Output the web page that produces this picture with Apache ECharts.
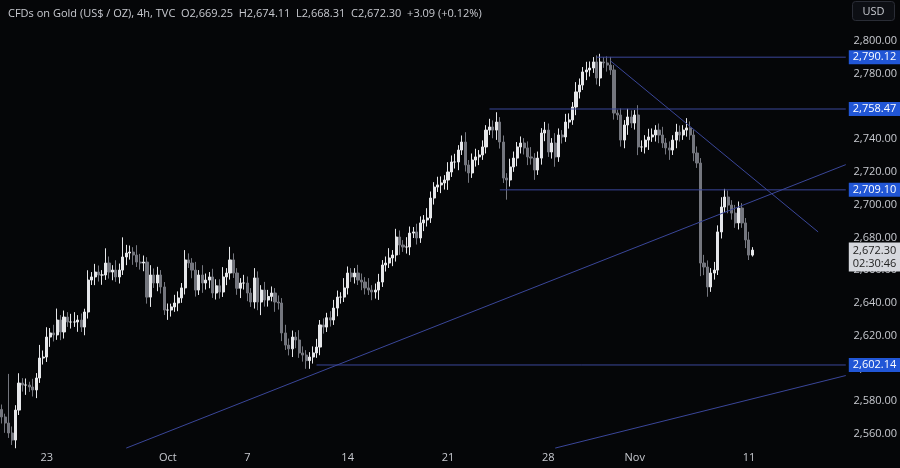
<!DOCTYPE html>
<html><head><meta charset="utf-8">
<script src="https://cdn.jsdelivr.net/npm/echarts@6/dist/echarts.min.js"></script>
<style>html,body{margin:0;padding:0;background:#050608;}#c{width:900px;height:468px;}</style>
</head><body><div id="c"></div>
<script>
const closes = [
2570.4,2566.7,2560.6,2556.3,2574.6,2591.1,2589.9,2589.9,2588.7,2586.9,2594.2,2606.4,2607.0,2619.2,2621.7,2620.5,2629.6,2622.3,2631.4,2628.4,2628.4,2628.4,2629.6,2625.3,2634.5,2654.0,2655.9,2658.9,2657.1,2657.1,2664.4,2658.9,2660.1,2655.9,2660.1,2668.1,2670.5,2671.1,2669.3,2665.0,2664.4,2665.0,2643.6,2657.1,2652.2,2657.1,2649.8,2635.7,2635.7,2637.6,2640.0,2643.1,2649.2,2666.3,
2664.4,2660.1,2647.9,2657.1,2652.2,2654.0,2655.9,2646.1,2650.5,2646.7,2655.9,2658.3,2666.3,2658.3,2649.0,2652.2,2652.2,2646.1,2640.6,2655.3,2640.6,2647.9,2641.8,2644.0,2646.1,2640.6,2640.0,2621.7,2614.3,2612.0,2619.2,2617.4,2609.5,2608.2,2604.8,2607.0,2609.5,2613.1,2626.6,2625.3,2631.0,2629.6,2636.9,2643.6,2643.6,2649.2,2658.3,2655.9,
2658.3,2654.0,2652.8,2649.2,2647.9,2646.7,2647.9,2652.8,2663.2,2664.4,2667.5,2669.3,2680.3,2675.4,2674.2,2674.2,2682.7,2683.4,2679.7,2688.9,2690.7,2691.9,2704.1,2710.8,2712.1,2713.3,2715.1,2720.0,2726.1,2726.1,2733.4,2738.3,2724.3,2719.4,2727.3,2729.2,2730.4,2735.3,2745.6,2747.5,2745.6,2750.5,2738.3,2716.3,2715.1,2723.1,2728.5,2735.3,2737.7,
2734.7,2729.2,2728.5,2721.2,2728.5,2743.8,2745.6,2732.2,2737.7,2729.2,2742.6,2741.4,2750.5,2751.8,2759.7,2768.9,2773.1,2781.1,2782.3,2783.5,2787.2,2777.4,2787.2,2786.6,2785.3,2782.3,2756.0,2754.8,2739.5,2748.7,2753.6,2749.9,2754.8,2735.3,2735.3,2739.5,2741.4,2742.6,2745.6,2742.6,2737.7,2734.7,2733.4,2739.5,2744.4,2742.6,2745.6,2746.9,2742.6,2731.6,
2725.5,2664.4,2662.0,2649.8,2658.3,2660.1,2683.4,2698.6,2704.7,2699.8,2694.9,2688.9,2698.0,2688.9,2678.5,2669.25,2672.30];
const upperWick = [3,2,30,4,3,6,3,4,2,5,3,8,4,6,3,5,7,3,4,3,5,6,3,4,2,6,3,5,4,3,9,4,3,6,4,12,5,4,3,6,5,4,3,6,4,5,3,3,4,2,5,4,3,6,
4,3,5,3,6,4,3,5,4,4,6,3,8,4,3,3,5,4,3,6,4,3,5,4,4,3,4,3,5,4,4,3,6,4,3,3,4,5,3,4,3,4,5,4,3,6,4,3,
3,5,4,3,6,3,4,5,3,4,6,3,5,4,3,6,4,3,5,4,3,6,4,3,5,4,3,6,4,5,3,4,6,3,4,5,3,4,3,5,4,6,3,4,3,5,4,3,4,
3,4,6,3,4,3,5,4,3,6,4,3,5,4,3,6,4,3,5,4,3,4,5,3,4,5,3,2,4,3,5,4,3,6,4,3,5,4,3,4,5,3,4,3,5,4,3,6,4,3,
4,3,5,4,3,5,4,6,5,4,3,5,4,3,3,5,1.8];
const lowerWick = [4,6,3,3,5,3,4,6,3,4,5,3,4,3,6,4,3,5,4,3,4,3,6,3,5,4,3,5,4,6,3,4,5,3,4,3,5,4,6,3,4,5,4,6,3,5,4,3,6,4,3,5,3,4,
3,5,4,3,6,4,5,3,4,4,3,5,4,3,4,6,4,5,3,4,5,8,4,4,3,6,4,5,3,4,5,5,3,4,5,5,4,3,5,4,3,4,3,5,4,3,4,3,
4,3,5,4,3,5,4,6,3,4,3,5,4,6,3,4,5,3,4,3,5,4,3,4,3,5,4,6,3,4,5,3,4,6,3,4,5,3,4,3,5,6,4,3,12,4,3,5,4,
4,5,4,6,3,4,5,3,4,6,3,4,3,4,3,5,4,3,5,4,3,4,5,3,4,3,4,3,4,5,6,3,4,5,3,4,6,3,4,5,3,4,6,3,5,4,3,4,3,5,
3,8,5,6,3,4,3,4,3,5,4,3,4,3,5,3,0.9];
const firstOpen = 2575.0;
const totalSlots = 245;
const tickIdx = [13,48,71,100,129,158,183,216];
const tickText = ['23','Oct','7','14','21','28','Nov','11'];
const levels = [[171.5,2790.12],[141.3,2758.47],[144.2,2709.10],[91.1,2602.14]];
const trendLines = [[[175.9,2787.8],[236.4,2683.4]],[[36.4,2551.4],[244,2724.5]],[[159.7,2551.4],[244,2595.7]]];
const lastPrice = 2672.30, countdown = '02:30:46';

const cats = [];for(let i=0;i<totalSlots;i++)cats.push(String(i));
const ohlc = closes.map((c,i)=>{const o=i?closes[i-1]:firstOpen;return [o,c,Math.min(o,c)-lowerWick[i],Math.max(o,c)+upperWick[i]];});
const fmt=v=>v.toLocaleString('en-US',{minimumFractionDigits:2,maximumFractionDigits:2});
const LC='#3a4699';
const series=[{type:'candlestick',data:ohlc,barWidth:2.6,
 itemStyle:{color:'#e6e7ea',color0:'#74767e',borderColor:'#e6e7ea',borderColor0:'#74767e',borderWidth:1}}];
levels.forEach(l=>series.push({type:'line',data:[[l[0],l[1]],[totalSlots-1,l[1]]],symbol:'none',silent:true,
 lineStyle:{color:LC,width:1},
 endLabel:{show:true,formatter:()=>fmt(l[1]),backgroundColor:'#2156d6',color:'#fff',padding:[2,4,1,4],fontSize:11,fontFamily:'Open Sans',distance:3}}));
trendLines.forEach(t=>series.push({type:'line',data:t,symbol:'none',silent:true,lineStyle:{color:LC,width:1}}));
series.push({type:'line',data:[[totalSlots-2,lastPrice],[totalSlots-1,lastPrice]],symbol:'none',silent:true,lineStyle:{opacity:0},z:5,
 endLabel:{show:true,formatter:()=>fmt(lastPrice)+'\n'+countdown,backgroundColor:'#d6d8de',color:'#222',padding:[2,4,1,4],fontSize:11,lineHeight:13,fontFamily:'Open Sans',distance:3,offset:[0,7]}});

const chart=echarts.init(document.getElementById('c'));
chart.setOption({
 backgroundColor:'#050608',animation:false,
 title:{text:'CFDs on Gold (US$ / OZ), 4h, TVC  O2,669.25  H2,674.11  L2,668.31  C2,672.30  +3.09 (+0.12%)',left:3,top:3,
  textStyle:{color:'#c8cad0',fontSize:11,fontWeight:'normal',fontFamily:'Open Sans'}},
 graphic:[{type:'group',right:5,top:1,children:[{type:'rect',shape:{x:0,y:0,width:42,height:19,r:3},style:{fill:'#0d0f14',stroke:'#2a2d36'}},
  {type:'text',style:{x:21,y:10,text:'USD',fill:'#c8cad0',font:'11px Open Sans',align:'center',verticalAlign:'middle'}}]}],
 grid:{left:0,right:50,top:8.25,height:458.5},
 xAxis:{type:'category',data:cats,boundaryGap:true,axisLine:{show:false},axisTick:{show:false},splitLine:{show:false},
  axisLabel:{interval:(i)=>tickIdx.includes(i),formatter:(v,i)=>{const k=tickIdx.indexOf(Number(v));return k>=0?tickText[k]:'';},
   color:'#c8cad0',fontSize:11,fontFamily:'Open Sans',margin:-14}},
 yAxis:{type:'value',position:'right',min:2540,max:2820,interval:20,scale:true,
  axisLine:{show:false},axisTick:{show:false},splitLine:{show:false},
  axisLabel:{showMinLabel:false,showMaxLabel:false,formatter:v=>fmt(v),color:'#c8cad0',fontSize:11,fontFamily:'Open Sans',margin:6}},
 series
});
</script></body></html>
